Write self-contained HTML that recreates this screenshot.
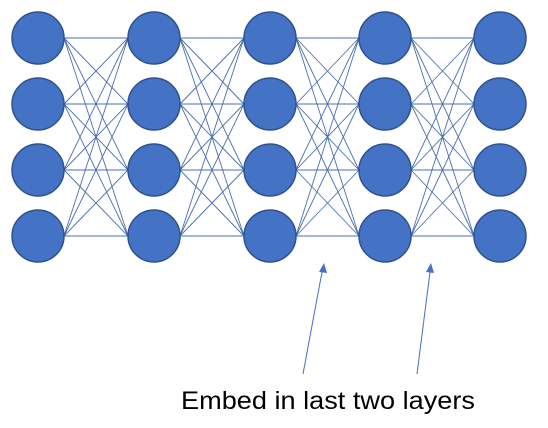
<!DOCTYPE html>
<html><head><meta charset="utf-8"><style>
html,body{margin:0;padding:0;background:#fff;width:548px;height:428px;overflow:hidden}
</style></head><body>
<svg width="548" height="428" viewBox="0 0 548 428" xmlns="http://www.w3.org/2000/svg">
<g stroke="#4a6fb0" stroke-width="0.9" fill="none">
<path d="M64 38L128 38M64 38L128 104M64 38L128 170M64 38L128 236
M64 104L128 38M64 104L128 104M64 104L128 170M64 104L128 236
M64 170L128 38M64 170L128 104M64 170L128 170M64 170L128 236
M64 236L128 38M64 236L128 104M64 236L128 170M64 236L128 236"/>
<path d="M180 38L244 38M180 38L244 104M180 38L244 170M180 38L244 236
M180 104L244 38M180 104L244 104M180 104L244 170M180 104L244 236
M180 170L244 38M180 170L244 104M180 170L244 170M180 170L244 236
M180 236L244 38M180 236L244 104M180 236L244 170M180 236L244 236"/>
<path d="M296 38L359 38M296 38L359 104M296 38L359 170M296 38L359 236
M296 104L359 38M296 104L359 104M296 104L359 170M296 104L359 236
M296 170L359 38M296 170L359 104M296 170L359 170M296 170L359 236
M296 236L359 38M296 236L359 104M296 236L359 170M296 236L359 236"/>
<path d="M411 38L474 38M411 38L474 104M411 38L474 170M411 38L474 236
M411 104L474 38M411 104L474 104M411 104L474 170M411 104L474 236
M411 170L474 38M411 170L474 104M411 170L474 170M411 170L474 236
M411 236L474 38M411 236L474 104M411 236L474 170M411 236L474 236"/>
</g>
<g fill="#4472c4" stroke="#2f528f" stroke-width="1.5">
<circle cx="38" cy="38" r="26"/><circle cx="38" cy="104" r="26"/><circle cx="38" cy="170" r="26"/><circle cx="38" cy="236" r="26"/>
<circle cx="154" cy="38" r="26"/><circle cx="154" cy="104" r="26"/><circle cx="154" cy="170" r="26"/><circle cx="154" cy="236" r="26"/>
<circle cx="270" cy="38" r="26"/><circle cx="270" cy="104" r="26"/><circle cx="270" cy="170" r="26"/><circle cx="270" cy="236" r="26"/>
<circle cx="385" cy="38" r="26"/><circle cx="385" cy="104" r="26"/><circle cx="385" cy="170" r="26"/><circle cx="385" cy="236" r="26"/>
<circle cx="500" cy="38" r="26"/><circle cx="500" cy="104" r="26"/><circle cx="500" cy="170" r="26"/><circle cx="500" cy="236" r="26"/>
</g>
<g stroke="#4472c4" stroke-width="1" fill="#4472c4">
<line x1="303" y1="374" x2="322" y2="272"/>
<polygon points="324,263 319,272 327,273" stroke="none"/>
<line x1="417" y1="374" x2="430" y2="272"/>
<polygon points="431,263 426,272 434,273" stroke="none"/>
</g>
<text x="181" y="409" font-family="Liberation Sans, sans-serif" font-size="25" fill="#000" textLength="294" lengthAdjust="spacingAndGlyphs">Embed in last two layers</text>
</svg>
</body></html>
